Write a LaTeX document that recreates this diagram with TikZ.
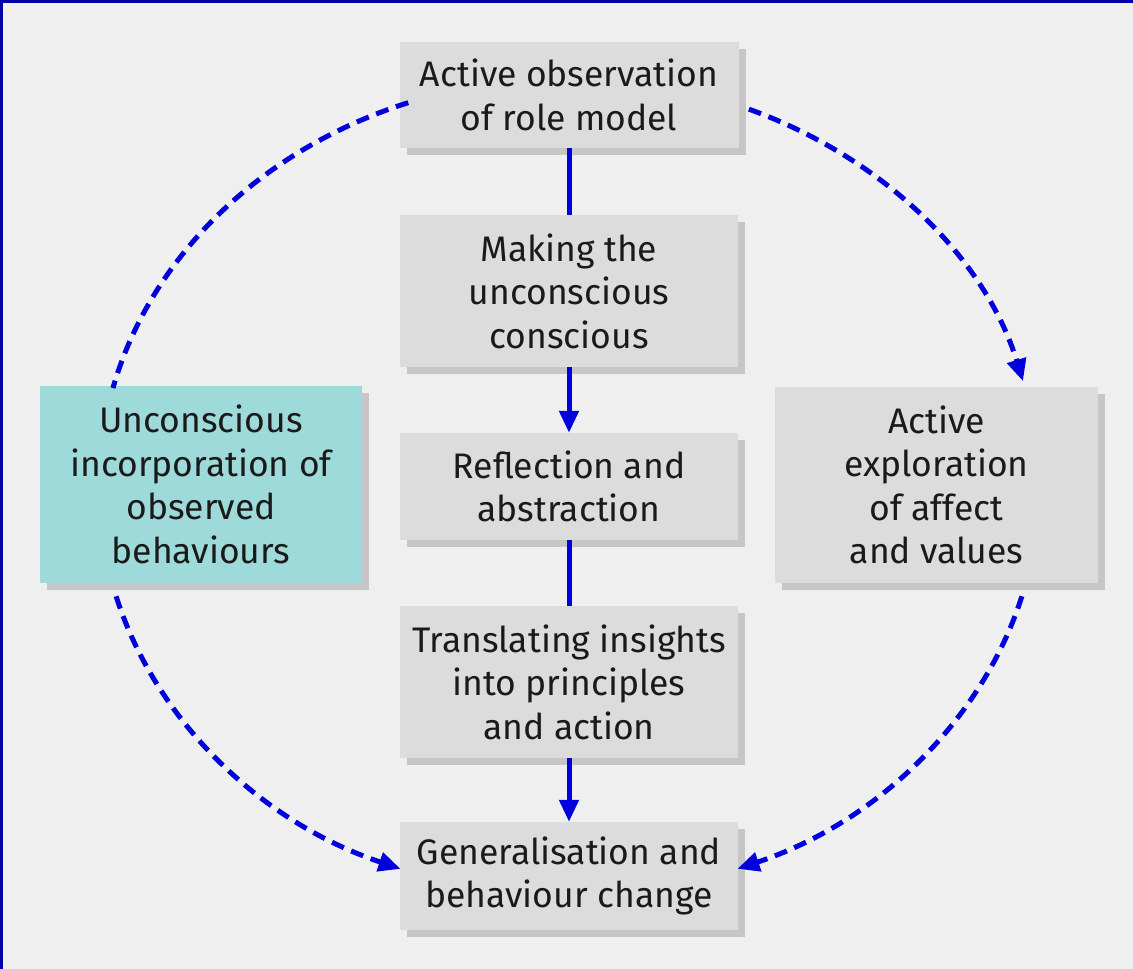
\documentclass[tikz,border=0pt]{standalone}
\usepackage{fontspec}
\setmainfont{Fira Sans}
\usetikzlibrary{arrows.meta,shadows}
\definecolor{bg}{HTML}{EFEFEF}
\definecolor{boxgray}{HTML}{DCDCDC}
\definecolor{teal}{HTML}{9FDADA}
\definecolor{lineblue}{HTML}{0000DD}
\definecolor{frameblue}{HTML}{0000AA}
\definecolor{txt}{HTML}{1A1A1A}
\tikzset{
  stagebox/.style={fill=boxgray, inner sep=0pt, align=center, text=txt,
    font=\fontsize{35.5}{43.5}\selectfont,
    drop shadow={shadow xshift=7pt, shadow yshift=-7pt, fill=black!38}},
  flow/.style={draw=lineblue, line width=5pt},
  flowarrow/.style={flow, -{Triangle[length=22pt,width=19pt]}},
  cyclearrow/.style={draw=lineblue, line width=5pt, dash pattern=on 13pt off 8pt,
    -{Triangle[length=22pt,width=19pt]}},
  cycleline/.style={draw=lineblue, line width=5pt, dash pattern=on 13pt off 8pt},
}
\begin{document}
\begin{tikzpicture}[x=1pt,y=1pt]
\useasboundingbox (0,0) rectangle (1133,-969);
\fill[bg] (0,0) rectangle (1133,-969);
\draw[frameblue, line width=3pt] (1133,-1) -- (1,-1) -- (1,-969);

\node[stagebox, minimum width=339pt, minimum height=106pt] (obs) at (569,-95) {Active observation\\of role model};
\node[stagebox, minimum width=338pt, minimum height=152pt] (mak) at (569,-291) {Making the\\unconscious\\conscious};
\node[stagebox, minimum width=338pt, minimum height=107pt] (ref) at (569,-486.5) {Reflection and\\abstraction};
\node[stagebox, minimum width=338pt, minimum height=152pt] (tra) at (569,-682) {Translating insights\\into principles\\and action};
\node[stagebox, minimum width=338pt, minimum height=108pt] (gen) at (569,-876) {Generalisation and\\behaviour change};
\node[stagebox, fill=teal, minimum width=322pt, minimum height=197pt] (unc) at (201,-484.5) {Unconscious\\incorporation of\\observed\\behaviours};
\node[stagebox, minimum width=323pt, minimum height=196pt] (exp) at (936.5,-485) {Active\\exploration\\of affect\\and values};

\draw[flow] (obs) -- (mak);
\draw[flowarrow] (mak) -- (ref);
\draw[flow] (ref) -- (tra);
\draw[flowarrow] (tra) -- (gen);

% ellipse centre (569,-487), radii 470 x 409
\coordinate (lt) at ({569+470*cos(110)},{-487+409*sin(110)});
\coordinate (rt) at ({569+470*cos(67.5)},{-487+409*sin(67.5)});
\coordinate (lb) at ({569+470*cos(195.5)},{-487+409*sin(195.5)});
\coordinate (rb) at ({569+470*cos(-15.5)},{-487+409*sin(-15.5)});

\draw[cycleline] (lt) arc[start angle=110, end angle=166, x radius=470, y radius=409];
\draw[cyclearrow] (rt) arc[start angle=67.5, end angle=15, x radius=470, y radius=409];
\draw[cyclearrow] (lb) arc[start angle=195.5, end angle=249, x radius=470, y radius=409];
\draw[cyclearrow] (rb) arc[start angle=-15.5, end angle=-69, x radius=470, y radius=409];
\end{tikzpicture}
\end{document}
